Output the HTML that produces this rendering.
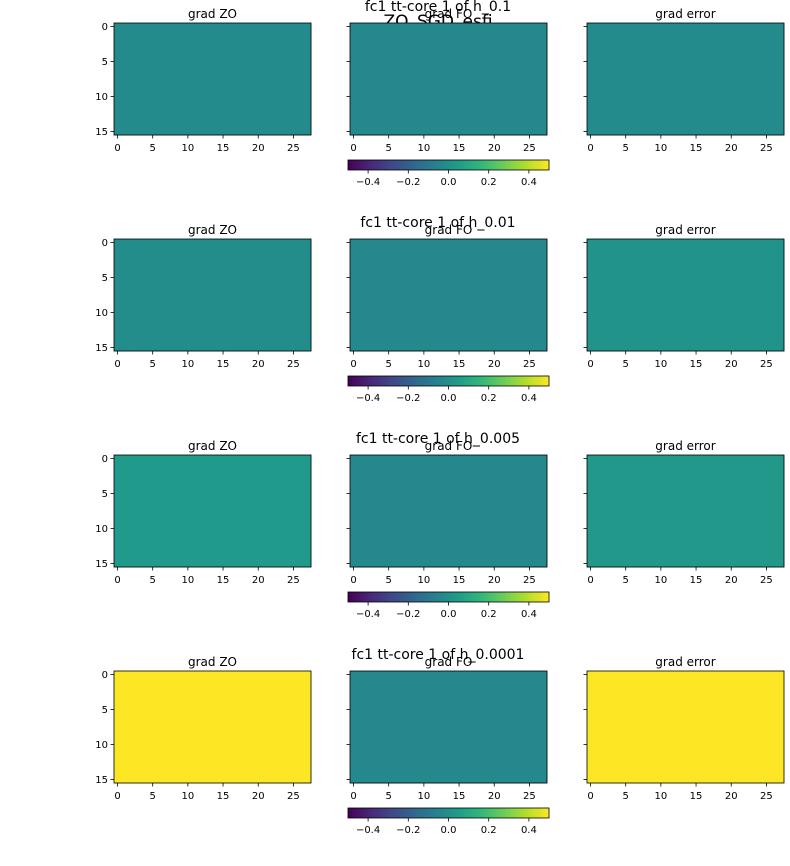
<!DOCTYPE html>
<html><head><meta charset="utf-8"><style>
body{margin:0;background:#fff;}
svg{display:block;font-family:"DejaVu Sans","Liberation Sans",sans-serif;}
</style></head><body>
<svg id="fig" width="790" height="866" viewBox="0 0 790 866">
<text x="438" y="27" font-size="17" text-anchor="middle">ZO_SGD_esfi</text>
</svg>
<script>
const rowTitles = ["fc1 tt-core 1 of h_0.1","fc1 tt-core 1 of h_0.01","fc1 tt-core 1 of h_0.005","fc1 tt-core 1 of h_0.0001"];
const colTitles = ["grad ZO","grad FO","grad error"];
const meanZO = [-0.02,-0.01,0.04,0.6];
const meanFO = [-0.03,-0.03,-0.03,-0.03];
const meanErr = [-0.02,0.01,0.03,0.6];
const xTicks = [0,5,10,15,20,25];
const yTicks = [0,5,10,15];
const cbTicks = [-0.4,-0.2,0.0,0.2,0.4];
const nCols = 28, nRows = 16, vmin = -0.5, vmax = 0.5;

const vir=[[68,1,84],[72,40,120],[62,74,137],[49,104,142],[38,130,142],[31,158,137],[53,183,121],[109,205,89],[180,222,44],[253,231,37]];
function cmap(v){let t=Math.max(0,Math.min(1,(v-vmin)/(vmax-vmin)))*(vir.length-1);let i=Math.min(vir.length-2,Math.floor(t)),f=t-i;
const c=vir[i].map((a,k)=>Math.round(a+(vir[i+1][k]-a)*f));return `rgb(${c})`;}
const NS="http://www.w3.org/2000/svg",svg=document.getElementById('fig');
function mk(tag,attrs,parent){const e=document.createElementNS(NS,tag);for(const k in attrs)e.setAttribute(k,attrs[k]);(parent||svg).appendChild(e);return e;}
const colX=[114,350,587],pw=197,ph=112,rowY0=23,rowStep=216;
const means=[meanZO,meanFO,meanErr];
for(let r=0;r<4;r++){
  const y0=rowY0+r*rowStep;
  const rt=mk('text',{x:438,y:y0-12,'font-size':14,'text-anchor':'middle'});rt.textContent=rowTitles[r];
  
  
  for(let c=0;c<3;c++){
    const x0=colX[c],g=mk('g',{});
    
    
    const sx=i=>x0+i*pw/nCols, sy=j=>y0+j*ph/nRows;
    for(let j=0;j<nRows;j++)for(let i=0;i<nCols;i++){
      const cell=mk('rect',{x:sx(i),y:sy(j),width:pw/nCols+0.4,height:ph/nRows+0.4,fill:cmap(means[c][r])},g);
      
      
    }
    mk('rect',{x:x0,y:y0,width:pw,height:ph,fill:'none',stroke:'#000','stroke-width':0.8},g);
    const t=mk('text',{x:x0+pw/2,y:y0-5,'font-size':12,'text-anchor':'middle'},g);t.textContent=colTitles[c];
    
    
    xTicks.forEach(v=>{const x=sx(v+0.5);mk('line',{x1:x,x2:x,y1:y0+ph,y2:y0+ph+3.5,stroke:'#000','stroke-width':0.8},g);
      const l=mk('text',{x:x,y:y0+ph+16,'font-size':10,'text-anchor':'middle'},g);l.textContent=v;
      
      });
    yTicks.forEach(v=>{const y=sy(v+0.5);mk('line',{x1:x0,x2:x0-3.5,y1:y,y2:y,stroke:'#000','stroke-width':0.8},g);
      if(c===0){const l=mk('text',{x:x0-6,y:y+3.5,'font-size':10,'text-anchor':'end'},g);l.textContent=v;
      
      }});
  }
  // colorbar
  const cy=y0+137,cx0=348,cw=201,ch=10,cb=mk('g',{});
  
  
  for(let k=0;k<100;k++){mk('rect',{x:cx0+k*cw/100,y:cy,width:cw/100+0.4,height:ch,fill:cmap(vmin+(k+0.5)/100*(vmax-vmin))},cb);}
  mk('rect',{x:cx0,y:cy,width:cw,height:ch,fill:'none',stroke:'#000','stroke-width':0.8},cb);
  cbTicks.forEach(v=>{const x=cx0+(v-vmin)/(vmax-vmin)*cw;mk('line',{x1:x,x2:x,y1:cy+ch,y2:cy+ch+3.5,stroke:'#000','stroke-width':0.8},cb);
    const l=mk('text',{x:x,y:cy+ch+15,'font-size':10,'text-anchor':'middle'},cb);l.textContent=(v<0?'\u2212':'')+Math.abs(v).toFixed(1);
    
    });
}
</script>
</body></html>
